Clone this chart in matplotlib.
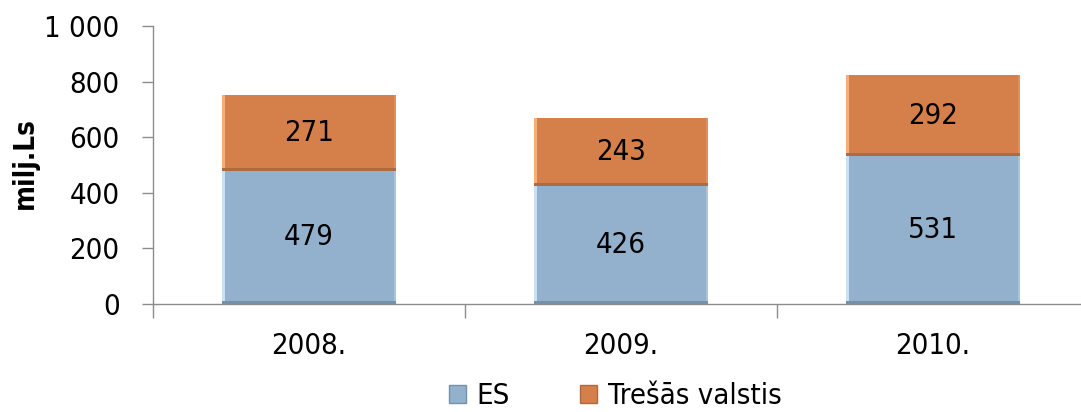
import matplotlib
matplotlib.use("Agg")
import matplotlib.pyplot as plt
from matplotlib.patches import Rectangle
from matplotlib.ticker import FuncFormatter, FixedLocator

years = ["2008.", "2009.", "2010."]
es = [479, 426, 531]
tresas = [271, 243, 292]
series_names = ["ES", "Trešās valstis"]
yticks = [0, 200, 400, 600, 800, 1000]

plt.rcParams['font.family'] = ['DejaVu Sans']
plt.rcParams['font.stretch'] = 'condensed'

W, H = 1081, 412
fig = plt.figure(figsize=(W / 100, H / 100), dpi=100)

left_px, right_px, top_px, bottom_px = 153, 1089, 26, 304
ax = fig.add_axes([left_px / W, (H - bottom_px) / H,
                   (right_px - left_px) / W, (bottom_px - top_px) / H])

blue = "#93B1CD"
orange = "#D57F4A"
x = list(range(len(years)))
bw = 0.555
b1 = ax.bar(x, es, width=bw, color=blue, edgecolor="none", zorder=2)
b2 = ax.bar(x, tresas, width=bw, bottom=es, color=orange, edgecolor="none", zorder=2)

ax.set_xlim(-0.5, len(years) - 0.5)
ax.set_ylim(0, 1000)

# bevel decorations derived from the bar rectangles
px_x = 1.0 / 312.0
px_y = 1000.0 / 278.0
def bevel(rects, light, dark, side):
    for r in rects:
        x0, y0 = r.get_x(), r.get_y()
        w, h = r.get_width(), r.get_height()
        ax.add_patch(Rectangle((x0, y0), 3 * px_x, h, color=light, lw=0, zorder=3))
        ax.add_patch(Rectangle((x0 + w - 2 * px_x, y0), 2 * px_x, h, color=side, lw=0, zorder=3))
        ax.add_patch(Rectangle((x0, y0), w, 3 * px_y, color=dark, lw=0, zorder=4))

bevel(b1, "#C9E1F5", "#7690AA", "#A7C3DD")
bevel(b2, "#F2B080", "#AE6A40", "#E58E58")

for rects, vals in ((b1, es), (b2, tresas)):
    for r, v in zip(rects, vals):
        ax.text(r.get_x() + r.get_width() / 2, r.get_y() + r.get_height() / 2,
                str(v), ha="center", va="center", fontsize=21, color="black", zorder=5)

for s in ("top", "right"):
    ax.spines[s].set_visible(False)
for s in ("left", "bottom"):
    ax.spines[s].set_color("#8C8C8C")
    ax.spines[s].set_linewidth(1.0)

ax.yaxis.set_major_locator(FixedLocator(yticks))
ax.yaxis.set_major_formatter(FuncFormatter(lambda v, p: f"{int(v):,}".replace(",", " ")))
ax.tick_params(axis="y", length=8, width=1, color="#8C8C8C", labelsize=21, pad=16)

ax.set_xticks(x)
ax.set_xticklabels(years)
ax.tick_params(axis="x", which="major", length=0, labelsize=21, pad=20)
ax.set_xticks([i - 0.5 for i in range(len(years) + 1)], minor=True)
ax.tick_params(axis="x", which="minor", length=10, width=1, color="#8C8C8C", direction="out")

ax.set_ylabel("milj.Ls", fontsize=20, fontweight="bold", va="center")
ax.yaxis.set_label_coords(25 / W, (H - 163) / H, transform=fig.transFigure)

handles = [Rectangle((0, 0), 1, 1, facecolor=blue, edgecolor="#7690AA", lw=1),
           Rectangle((0, 0), 1, 1, facecolor=orange, edgecolor="#AE6A40", lw=1)]
fig.legend(handles, series_names, loc="center", bbox_to_anchor=(0.569, 0.038),
           ncol=2, frameon=False, fontsize=21, handlelength=0.6, handleheight=0.6,
           handletextpad=0.35, columnspacing=2.4, borderpad=0)

fig.savefig("out.png", dpi=100)
